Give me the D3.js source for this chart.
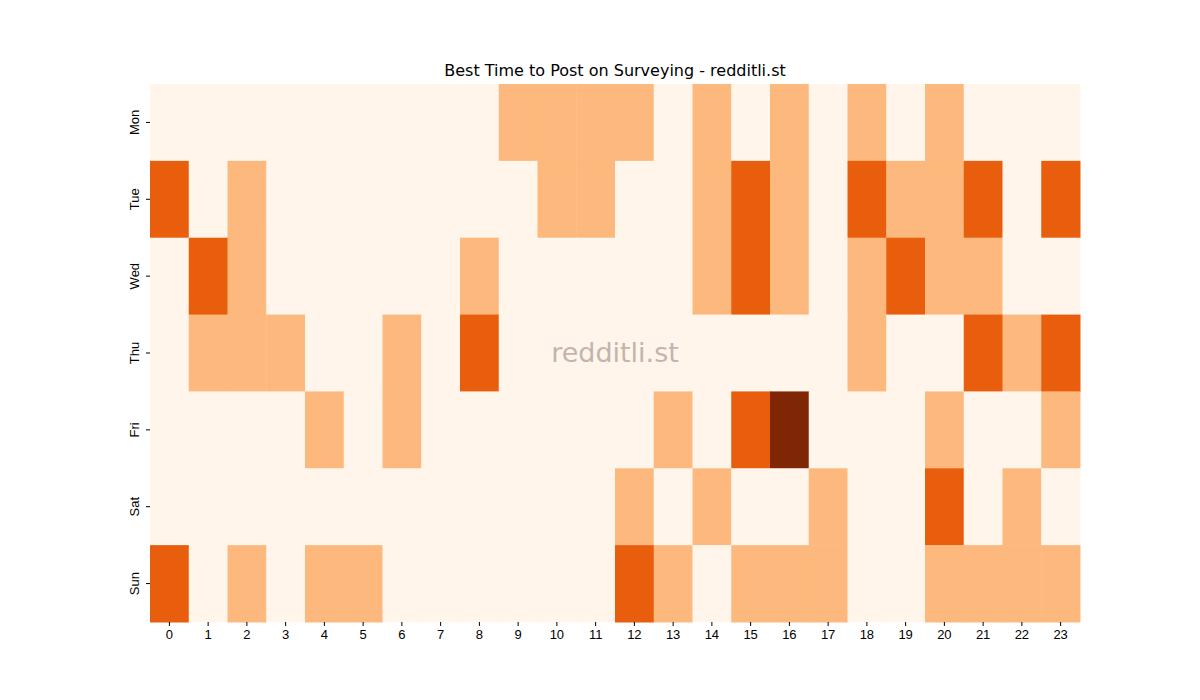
<!DOCTYPE html>
<html lang="en">
<head>
<meta charset="UTF-8">
<title>Best Time to Post on Surveying</title>
<script src="https://d3js.org/d3.v7.min.js"></script>
<style>
    body { margin: 0; background: #fff; font-family: "DejaVu Sans", sans-serif; }
    .tick text { font-size: 13px; fill: #000; }
</style>
</head>
<body>
<div id="chart"></div>
<script>
    const days = ["Mon", "Tue", "Wed", "Thu", "Fri", "Sat", "Sun"];
    const hours = d3.range(24).map(String);
    // activity level per day, one value per hour
    const mon = [0,0,0,0,0,0,0,0,0,1,1,1,1,0,1,0,1,0,1,0,1,0,0,0];
    const tue = [2,0,1,0,0,0,0,0,0,0,1,1,0,0,1,2,1,0,2,1,1,2,0,2];
    const wed = [0,2,1,0,0,0,0,0,1,0,0,0,0,0,1,2,1,0,1,2,1,1,0,0];
    const thu = [0,1,1,1,0,0,1,0,2,0,0,0,0,0,0,0,0,0,1,0,0,2,1,2];
    const fri = [0,0,0,0,1,0,1,0,0,0,0,0,0,1,0,2,3,0,0,0,1,0,0,1];
    const sat = [0,0,0,0,0,0,0,0,0,0,0,0,1,0,1,0,0,1,0,0,2,0,1,0];
    const sun = [2,0,1,0,1,1,0,0,0,0,0,0,2,1,0,1,1,1,0,0,1,1,1,1];
    const rows = [mon, tue, wed, thu, fri, sat, sun];
    const levelColors = ["#fff5eb", "#fdb97d", "#e95e0d", "#7f2704"];

    const width = 1200, height = 700;
    const margin = {left: 150, right: 120, top: 84, bottom: 78};

    const svg = d3.select("#chart").append("svg")
        .attr("width", width).attr("height", height);

    const x = d3.scaleBand().domain(hours).range([margin.left, width - margin.right]);
    const y = d3.scaleBand().domain(days).range([margin.top, height - margin.bottom]);
    const color = d3.scaleOrdinal().domain([0, 1, 2, 3]).range(levelColors);

    const cells = [];
    rows.forEach((r, i) => r.forEach((v, j) => cells.push({day: days[i], hour: hours[j], v})));

    svg.append("g").selectAll("rect").data(cells).enter().append("rect")
        .attr("x", d => x(d.hour))
        .attr("y", d => y(d.day))
        .attr("width", x.bandwidth() + 0.5)
        .attr("height", y.bandwidth() + 0.5)
        .attr("fill", d => color(d.v));

    svg.append("g")
        .attr("transform", `translate(0,${height - margin.bottom})`)
        .call(d3.axisBottom(x).tickSize(4).tickPadding(4))
        .call(g => g.select(".domain").remove());

    const yAxis = svg.append("g")
        .attr("transform", `translate(${margin.left},0)`)
        .call(d3.axisLeft(y).tickSize(4).tickPadding(0))
        .call(g => g.select(".domain").remove());
    yAxis.selectAll(".tick text")
        .attr("text-anchor", "middle")
        .attr("transform", "translate(-16,0) rotate(-90)")
        .attr("x", 0).attr("dy", "0.35em");

    svg.append("text")
        .attr("x", (margin.left + width - margin.right) / 2)
        .attr("y", 76)
        .attr("text-anchor", "middle")
        .attr("font-size", 16)
        .text("Best Time to Post on Surveying - redditli.st");

    svg.append("text")
        .attr("x", (margin.left + width - margin.right) / 2)
        .attr("y", 362)
        .attr("text-anchor", "middle")
        .attr("font-size", 27)
        .attr("fill", "#b0a09a")
        .attr("opacity", 0.75)
        .text("redditli.st");
</script>
</body>
</html>
